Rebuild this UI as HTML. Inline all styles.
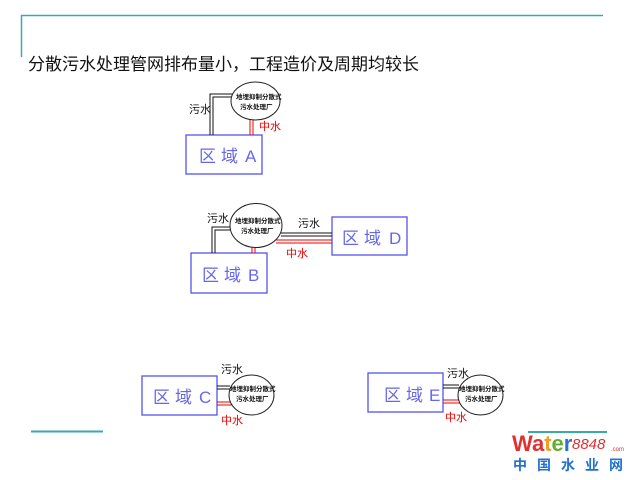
<!DOCTYPE html>
<html><head><meta charset="utf-8"><style>
html,body{margin:0;padding:0;background:#fff;}
svg{display:block}
text{font-family:"Liberation Sans","Noto Sans CJK SC",sans-serif;}
</style></head><body>
<svg width="640" height="480" viewBox="0 0 640 480" xmlns="http://www.w3.org/2000/svg">
<line x1="21" y1="15.5" x2="603" y2="15.5" stroke="#3aa9a9" stroke-width="1.5"/>
<line x1="21.5" y1="15" x2="21.5" y2="57" stroke="#3aa9a9" stroke-width="1.5"/>
<text x="28" y="70" font-size="17" fill="#111" font-family="'Noto Serif CJK SC',serif">分散污水处理管网排布量小，工程造价及周期均较长</text>

<g fill="none" stroke="#5555ee" stroke-width="1.3">
<rect x="186" y="135" width="76" height="39"/>
<rect x="191" y="253" width="76" height="40"/>
<rect x="332" y="217" width="75" height="38"/>
<rect x="142" y="376" width="75" height="39"/>
<rect x="368" y="373" width="75" height="39"/>
</g>
<g font-size="17" fill="#6666ee">
<text x="199" y="162">区</text><text x="221" y="162">域</text><text x="245" y="162">A</text>
<text x="202" y="281">区</text><text x="224" y="281">域</text><text x="248" y="281">B</text>
<text x="342" y="244">区</text><text x="364" y="244">域</text><text x="389" y="244">D</text>
<text x="153" y="403">区</text><text x="175" y="403">域</text><text x="199" y="403">C</text>
<text x="384" y="401">区</text><text x="406" y="401">域</text><text x="429" y="401">E</text>
</g>

<g fill="none" stroke="#111" stroke-width="1">
<polyline points="210,135 210,94 233,94"/>
<polyline points="213,135 213,97 232,97"/>
<polyline points="212,253 212,227 232,227"/>
<polyline points="215,253 215,230 231,230"/>
<line x1="281" y1="233" x2="332" y2="233"/>
<line x1="281" y1="236" x2="332" y2="236"/>
<line x1="217" y1="386" x2="230" y2="386"/>
<line x1="217" y1="389" x2="230" y2="389"/>
<line x1="443" y1="385" x2="459" y2="385"/>
<line x1="443" y1="388" x2="459" y2="388"/>
</g>
<g fill="none" stroke="#e00" stroke-width="1">
<line x1="250" y1="120" x2="250" y2="135"/>
<line x1="253" y1="120" x2="253" y2="135"/>
<line x1="252" y1="247" x2="252" y2="253"/>
<line x1="255" y1="247" x2="255" y2="253"/>
<line x1="274" y1="240" x2="332" y2="240"/>
<line x1="276" y1="243" x2="332" y2="243"/>
<line x1="217" y1="402" x2="231" y2="402"/>
<line x1="217" y1="405" x2="232" y2="405"/>
<line x1="443" y1="400" x2="460" y2="400"/>
<line x1="443" y1="403" x2="461" y2="403"/>
</g>
<g fill="#fff" stroke="#222" stroke-width="1">
<ellipse cx="255.5" cy="101" rx="24.5" ry="19"/>
<ellipse cx="256" cy="225.5" rx="26" ry="22"/>
<ellipse cx="251.5" cy="395" rx="22.5" ry="20"/>
<ellipse cx="480.5" cy="395" rx="22.5" ry="20"/>
</g>
<g font-size="6.5" fill="#111" font-weight="bold">
<text x="236" y="99">地埋抑制分散式</text>
<text x="240" y="109">污水处理厂</text>
<text x="235" y="223">地埋抑制分散式</text>
<text x="241" y="233">污水处理厂</text>
<text x="230" y="391">地埋抑制分散式</text>
<text x="236" y="401">污水处理厂</text>
<text x="459" y="391">地埋抑制分散式</text>
<text x="465" y="401">污水处理厂</text>
</g>
<g font-size="11">
<text x="189" y="113" fill="#111">污水</text>
<text x="259" y="130" fill="#e00">中水</text>
<text x="207" y="222" fill="#111">污水</text>
<text x="298" y="227" fill="#111">污水</text>
<text x="286" y="257" fill="#e00">中水</text>
<text x="221" y="373" fill="#111">污水</text>
<text x="221" y="424" fill="#e00">中水</text>
<text x="447" y="377" fill="#111">污水</text>
<text x="445" y="421" fill="#e00">中水</text>
</g>

<line x1="31" y1="431.5" x2="103" y2="431.5" stroke="#3aa9a9" stroke-width="2"/>
<line x1="528" y1="432" x2="607" y2="432" stroke="#3aa9a9" stroke-width="2"/>
<text x="512" y="451" font-size="22" font-weight="bold" font-family="'Liberation Sans',sans-serif"><tspan fill="#e03030">Wa</tspan><tspan fill="#f0a020">t</tspan><tspan fill="#60b030">e</tspan><tspan fill="#3070d0">r</tspan></text>
<text x="572" y="449" font-size="15" font-style="italic" fill="#e03030" font-family="'Liberation Serif',serif">8848</text>
<text x="611" y="451" font-size="6" fill="#e03030">.com</text>
<text x="513" y="470" font-size="14" font-weight="bold" fill="#2070d0" letter-spacing="10">中国水业网</text>
</svg>
</body></html>
